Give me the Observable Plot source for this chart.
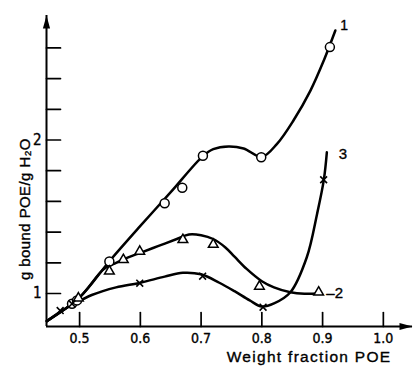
<!DOCTYPE html>
<html>
<head>
<meta charset="utf-8">
<script src="https://cdn.jsdelivr.net/npm/d3@7"></script>
<script src="https://cdn.jsdelivr.net/npm/@observablehq/plot@0.6"></script>
<style>
  html, body { margin: 0; padding: 0; background: #fff; }
  svg { display: block; }
</style>
</head>
<body>
<div id="chart"></div>
<script>
// ---- scale extents and ticks ----
const xDomain = [0.4455, 1.048];
const yDomain = [0.785, 2.811];
const xTicks = [0.5, 0.6, 0.7, 0.8, 0.9, 1.0];
const xTickLabels = ["0.5", "0.6", "0.7", "0.8", "0.9", "1.0"];
const yTicks = [1.0, 1.2, 1.4, 1.6, 1.8, 2.0, 2.2, 2.4, 2.6];
const yTickLabels = [1, 2];
const xTitle = "Weight fraction POE";
const yTitle = "g bound POE/g H\u2082O";

// ---- measured points ----
const circleX = [0.4875, 0.4957, 0.549, 0.640, 0.669, 0.703, 0.799, 0.912];
const circleY = [0.933, 0.955, 1.208, 1.588, 1.689, 1.897, 1.888, 2.605];
const triangleX = [0.498, 0.549, 0.572, 0.599, 0.670, 0.720, 0.796, 0.8935];
const triangleY = [0.970, 1.145, 1.220, 1.274, 1.350, 1.319, 1.046, 1.008];
const crossX = [0.468, 0.4875, 0.599, 0.7025, 0.802, 0.9017];
const crossY = [0.889, 0.933, 1.067, 1.113, 0.911, 1.741];

// ---- fitted curves ----
const curve1X = [0.446, 0.50, 0.549, 0.60, 0.65, 0.703, 0.72, 0.745, 0.77, 0.80, 0.825, 0.852, 0.88, 0.902, 0.921];
const curve1Y = [0.820, 0.975, 1.210, 1.440, 1.660, 1.895, 1.940, 1.958, 1.945, 1.890, 1.975, 2.127, 2.322, 2.518, 2.713];
const curve2X = [0.446, 0.50, 0.54, 0.56, 0.58, 0.60, 0.63, 0.66, 0.68, 0.70, 0.72, 0.74, 0.755, 0.775, 0.80, 0.82, 0.847, 0.87, 0.893];
const curve2Y = [0.820, 0.975, 1.160, 1.200, 1.235, 1.265, 1.310, 1.355, 1.385, 1.380, 1.355, 1.300, 1.240, 1.160, 1.080, 1.040, 1.008, 0.998, 1.000];
const curve3X = [0.446, 0.47, 0.49, 0.52, 0.56, 0.60, 0.64, 0.67, 0.70, 0.73, 0.755, 0.78, 0.80, 0.82, 0.847, 0.874, 0.891, 0.902, 0.907];
const curve3Y = [0.820, 0.885, 0.930, 0.990, 1.040, 1.070, 1.110, 1.135, 1.125, 1.070, 1.015, 0.955, 0.915, 0.935, 1.008, 1.236, 1.520, 1.740, 1.920];
const seriesNames = ["1", "\u20132", "3"];

// ---- build tables ----
const zip = (xs, ys, extra = {}) => xs.map((x, i) => ({x, y: ys[i], ...extra}));
const circles = zip(circleX, circleY);
const triangles = zip(triangleX, triangleY);
const crosses = zip(crossX, crossY);
const curves = [
  ...zip(curve1X, curve1Y, {s: 0}),
  ...zip(curve2X, curve2Y, {s: 1}),
  ...zip(curve3X, curve3Y, {s: 2})
];
const end1 = [{...zip(curve1X, curve1Y).at(-1), label: seriesNames[0]}];
const end2 = [{...zip(curve2X, curve2Y).at(-1), label: seriesNames[1]}];
const end3 = [{...zip(curve3X, curve3Y).at(-1), label: seriesNames[2]}];

const arrowHead = {
  draw(context) {
    context.moveTo(0, 0);
    context.lineTo(3.6, 13);
    context.lineTo(-3.6, 13);
    context.closePath();
  }
};
const tickShape = {
  draw(context, l) {
    context.moveTo(0, 0);
    context.lineTo(0, -l);
  }
};

const FONT = "'Liberation Sans', Arial, sans-serif";
const NARROW = "'Liberation Sans Narrow', 'DejaVu Sans Condensed', 'Liberation Sans', sans-serif";
const ink = {fill: "black", stroke: "black", strokeWidth: 0.35};

const chart = Plot.plot({
  width: 414,
  height: 370,
  marginLeft: 46,
  marginRight: 2,
  marginTop: 15,
  marginBottom: 44,
  x: {domain: xDomain, axis: null},
  y: {domain: yDomain, axis: null},
  style: {background: "white", color: "black", fontFamily: FONT},
  marks: [
    // axes
    Plot.ruleY([yDomain[0]], {x1: xDomain[0], x2: xDomain[1], stroke: "black", strokeWidth: 2}),
    Plot.ruleX([xDomain[0]], {y1: yDomain[0], y2: yDomain[1], stroke: "black", strokeWidth: 2}),
    Plot.dot([0], {x: () => xDomain[1], y: () => yDomain[0], symbol: arrowHead, rotate: 90, fill: "black", stroke: "none"}),
    Plot.dot([0], {x: () => xDomain[0], y: () => yDomain[1], symbol: arrowHead, rotate: 0, fill: "black", stroke: "none"}),
    // inward ticks
    Plot.vector(xTicks, {x: d => d, y: () => yDomain[0], length: 14, rotate: 0, anchor: "start", shape: tickShape, stroke: "black", strokeWidth: 1.7}),
    Plot.vector(yTicks, {x: () => xDomain[0], y: d => d, length: 14, rotate: 90, anchor: "start", shape: tickShape, stroke: "black", strokeWidth: 1.7}),
    // tick labels
    Plot.text(xTicks, {x: d => d, y: () => yDomain[0], text: (d, i) => xTickLabels[i], textAnchor: "middle", lineAnchor: "middle", dy: 12, fontSize: 14, fontFamily: NARROW, ...ink}),
    Plot.text(yTickLabels, {x: () => xDomain[0], y: d => d, text: d => String(d), dx: -5, textAnchor: "end", lineAnchor: "middle", fontSize: 15, fontFamily: NARROW, ...ink}),
    // axis titles
    Plot.text([xTitle], {frameAnchor: "bottom-right", text: d => d, textAnchor: "end", lineAnchor: "middle", dx: -21, dy: 31, fontSize: 15.5, ...ink}),
    Plot.text([yTitle], {frameAnchor: "left", text: d => d, rotate: -90, textAnchor: "middle", lineAnchor: "middle", dx: -21, dy: 38, fontSize: 15, ...ink}),
    // curves
    Plot.line(curves, {x: "x", y: "y", z: "s", curve: "catmull-rom", stroke: "black", strokeWidth: 2.5}),
    // markers
    Plot.dot(circles, {x: "x", y: "y", r: 4.5, fill: "white", stroke: "black", strokeWidth: 1.5}),
    Plot.dot(triangles, {x: "x", y: "y", symbol: "triangle", r: 3.6, fill: "white", stroke: "black", strokeWidth: 1.5}),
    Plot.dot(crosses, {x: "x", y: "y", symbol: "times", r: 3.2, stroke: "black", strokeWidth: 1.6}),
    // series labels
    Plot.text(end1, {x: "x", y: "y", text: "label", textAnchor: "start", lineAnchor: "middle", dx: 5, dy: -5, fontSize: 14, ...ink}),
    Plot.text(end2, {x: "x", y: "y", text: "label", textAnchor: "start", lineAnchor: "middle", dx: 8, dy: 0, fontSize: 15, ...ink}),
    Plot.text(end3, {x: "x", y: "y", text: "label", textAnchor: "start", lineAnchor: "middle", dx: 12, dy: 2, fontSize: 15, ...ink})
  ]
});
// widen the letter spacing of the axis titles, as in the scanned figure
d3.select(chart).selectAll("text").each(function () {
  const t = this.textContent;
  if (t === xTitle) this.setAttribute("letter-spacing", "1.3");
  if (t === yTitle) this.setAttribute("letter-spacing", "0.4");
});
document.getElementById("chart").appendChild(chart);
</script>
</body>
</html>
